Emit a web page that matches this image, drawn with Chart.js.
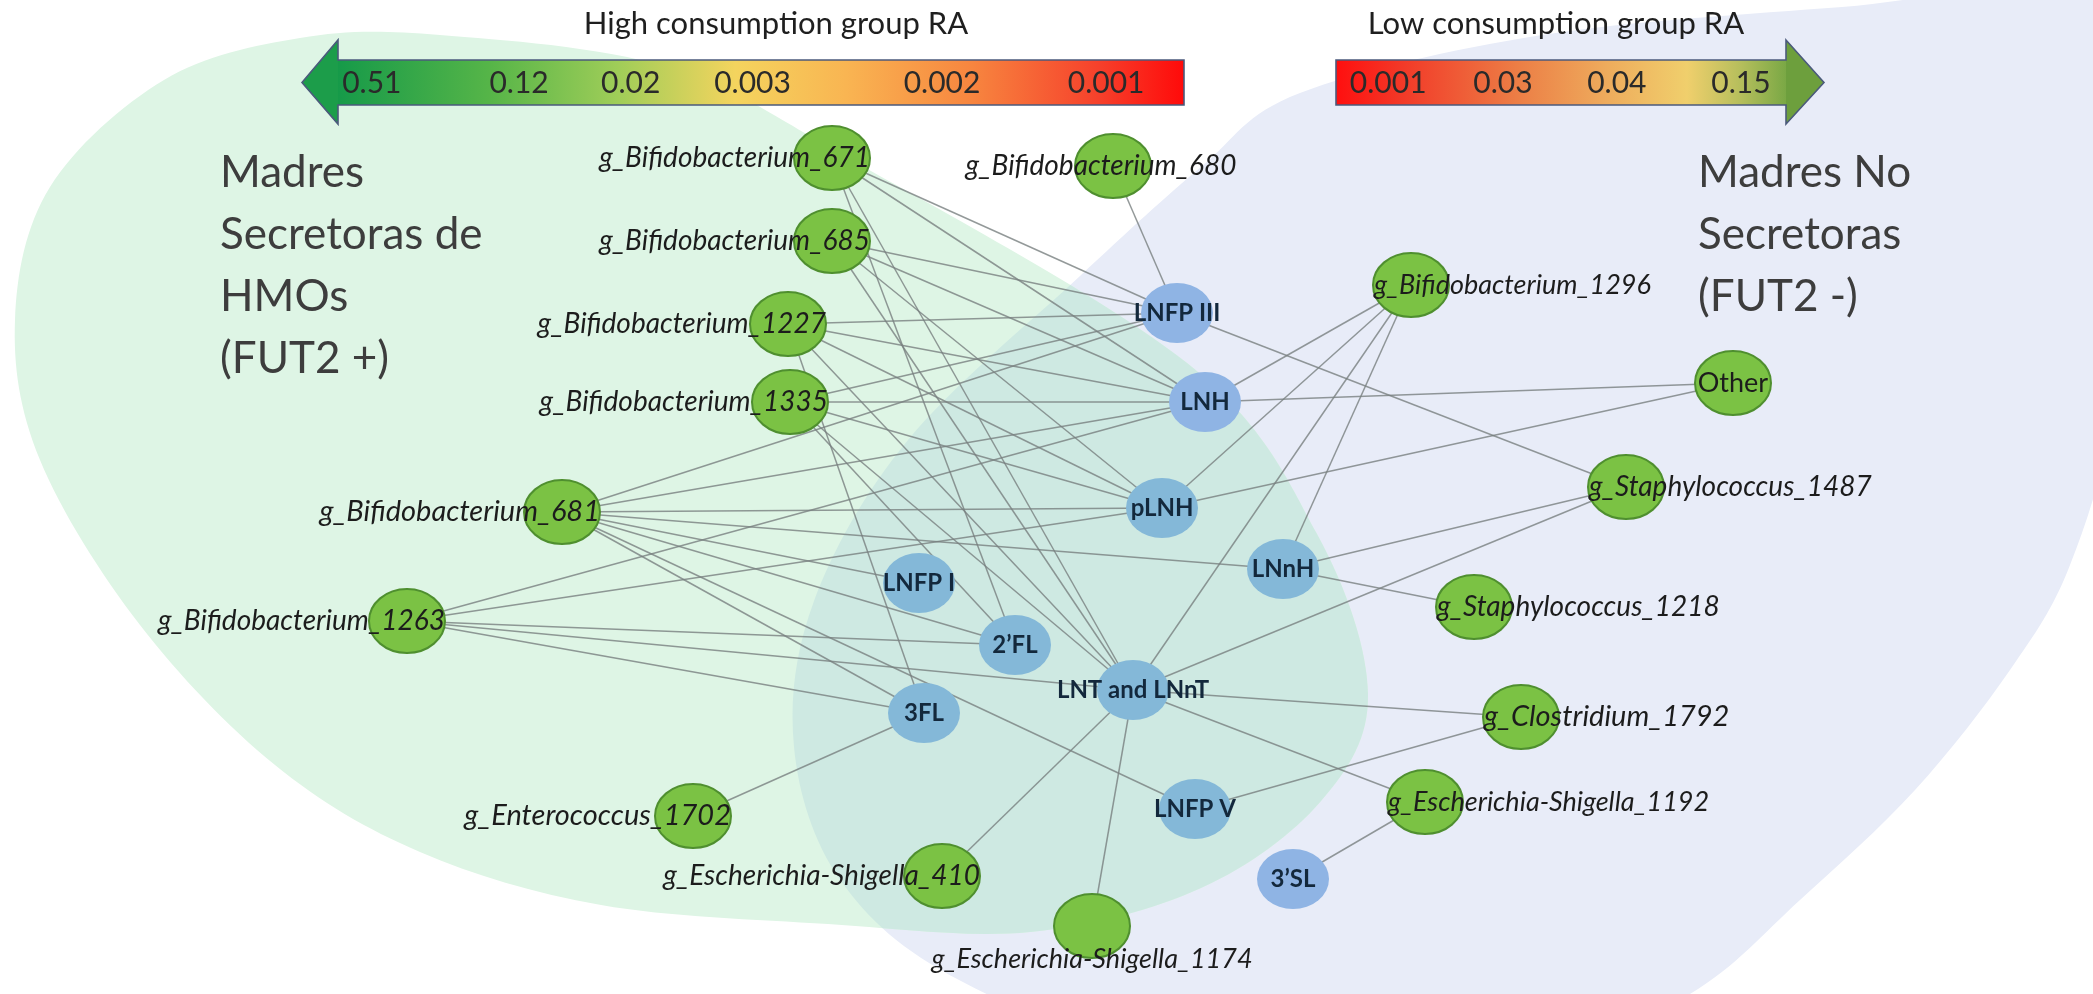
<!DOCTYPE html>
<html>
<head>
<meta charset="utf-8">
<script src="https://cdn.jsdelivr.net/npm/chart.js@4.4.0/dist/chart.umd.min.js"></script>
<style>
  html, body { margin: 0; padding: 0; background: #fff; overflow: hidden; }
</style>
</head>
<body>
<canvas id="net" width="2093" height="994"></canvas>
<script>
// nodes of the network (bacteria + HMOs)
const nodeNames = [
  'g_Bifidobacterium_671', 'g_Bifidobacterium_685', 'g_Bifidobacterium_1227', 'g_Bifidobacterium_1335',
  'g_Bifidobacterium_681', 'g_Bifidobacterium_1263', 'g_Enterococcus_1702', 'g_Escherichia-Shigella_410',
  'g_Escherichia-Shigella_1174', 'g_Bifidobacterium_680', 'g_Bifidobacterium_1296', 'Other',
  'g_Staphylococcus_1487', 'g_Staphylococcus_1218', 'g_Clostridium_1792', 'g_Escherichia-Shigella_1192',
  'LNFP III', 'LNH', 'pLNH', 'LNnH', 'LNFP I', '2’FL', 'LNT and LNnT', '3FL', 'LNFP V', '3’SL'
];
const nodeX = [832, 832, 788, 790, 562, 407, 693, 942, 1092, 1113, 1411, 1733, 1626, 1474, 1521, 1425,
               1177, 1205, 1162, 1283, 919, 1015, 1133, 924, 1195, 1293];
const nodeY = [158, 241, 324, 402, 512, 621, 816, 876, 926, 166, 285, 383, 487, 607, 717, 802,
               313, 402, 508, 569, 583, 645, 690, 713, 809, 879];
const nodeKind = ['bact', 'bact', 'bact', 'bact', 'bact', 'bact', 'bact', 'bact', 'bact', 'bact', 'bact', 'bact',
                  'bact', 'bact', 'bact', 'bact',
                  'hmoB', 'hmoB', 'hmo', 'hmo', 'hmo', 'hmo', 'hmo', 'hmo', 'hmo', 'hmoB'];
const labelSide = ['left', 'left', 'left', 'left', 'left', 'left', 'left', 'left', 'below', 'top', 'right', 'inside',
                   'right', 'right', 'right', 'right',
                   'inside', 'inside', 'inside', 'inside', 'inside', 'inside', 'inside', 'inside', 'inside', 'inside'];

const edges = [
  ['g_Bifidobacterium_671', 'LNFP III'], ['g_Bifidobacterium_671', 'LNH'], ['g_Bifidobacterium_671', 'LNT and LNnT'], ['g_Bifidobacterium_671', '2’FL'],
  ['g_Bifidobacterium_685', 'LNFP III'], ['g_Bifidobacterium_685', 'LNH'], ['g_Bifidobacterium_685', 'pLNH'], ['g_Bifidobacterium_685', 'LNT and LNnT'],
  ['g_Bifidobacterium_1227', 'LNFP III'], ['g_Bifidobacterium_1227', 'LNH'], ['g_Bifidobacterium_1227', 'pLNH'], ['g_Bifidobacterium_1227', 'LNT and LNnT'], ['g_Bifidobacterium_1227', '3FL'],
  ['g_Bifidobacterium_1335', 'LNFP III'], ['g_Bifidobacterium_1335', 'LNH'], ['g_Bifidobacterium_1335', 'pLNH'], ['g_Bifidobacterium_1335', 'LNT and LNnT'], ['g_Bifidobacterium_1335', '2’FL'],
  ['g_Bifidobacterium_681', 'LNFP III'], ['g_Bifidobacterium_681', 'LNH'], ['g_Bifidobacterium_681', 'pLNH'], ['g_Bifidobacterium_681', 'LNnH'],
  ['g_Bifidobacterium_681', 'LNFP I'], ['g_Bifidobacterium_681', '2’FL'], ['g_Bifidobacterium_681', '3FL'], ['g_Bifidobacterium_681', 'LNFP V'],
  ['g_Bifidobacterium_1263', 'LNH'], ['g_Bifidobacterium_1263', 'pLNH'], ['g_Bifidobacterium_1263', '2’FL'],
  ['g_Bifidobacterium_1263', 'LNT and LNnT'], ['g_Bifidobacterium_1263', '3FL'],
  ['g_Bifidobacterium_680', 'LNFP III'],
  ['g_Bifidobacterium_1296', 'LNH'], ['g_Bifidobacterium_1296', 'pLNH'], ['g_Bifidobacterium_1296', 'LNnH'], ['g_Bifidobacterium_1296', 'LNT and LNnT'],
  ['LNFP III', 'g_Staphylococcus_1487'], ['LNH', 'Other'], ['pLNH', 'Other'],
  ['LNnH', 'g_Staphylococcus_1487'], ['LNnH', 'g_Staphylococcus_1218'],
  ['LNT and LNnT', 'g_Staphylococcus_1487'], ['LNT and LNnT', 'g_Clostridium_1792'], ['LNT and LNnT', 'g_Escherichia-Shigella_1192'],
  ['LNT and LNnT', 'g_Escherichia-Shigella_410'], ['LNT and LNnT', 'g_Escherichia-Shigella_1174'],
  ['LNFP V', 'g_Clostridium_1792'], ['3’SL', 'g_Escherichia-Shigella_1192'], ['g_Enterococcus_1702', '3FL']
];

// colour bar tick labels
const highTitle = 'High consumption group RA';
const highTicks = ['0.51', '0.12', '0.02', '0.003', '0.002', '0.001'];
const lowTitle = 'Low consumption group RA';
const lowTicks = ['0.001', '0.03', '0.04', '0.15'];
const groupLeft = ['Madres', 'Secretoras de', 'HMOs', '(FUT2 +)'];
const groupRight = ['Madres No', 'Secretoras', '(FUT2 -)'];

// ---- styling / layout ----
const labelFont = [28, 28, 28, 28, 29, 28, 29, 28, 27, 28, 27, 27, 28, 28, 29, 27,
                   24, 24, 24, 24, 24, 24, 24, 24, 24, 24];
const highTickPos = [0.04, 0.214, 0.346, 0.49, 0.714, 0.908];
const lowTickPos = [0.116, 0.371, 0.624, 0.9];

const greenBlob = [[440, 35], [667, 67], [848, 158], [1187, 363], [1317, 534], [1368, 694], [1321, 801], [1201, 888],
  [1030, 932], [828, 924], [601, 905], [420, 852], [275, 765], [140, 625], [40, 460], [15, 320], [50, 187], [164, 80], [300, 38]];
const blueBlob = [[1080, 276], [1201, 167], [1300, 93], [1542, 35], [1842, 7], [2082, -7], [2136, 133], [2115, 400],
  [2070, 565], [2010, 670], [1915, 790], [1800, 900], [1690, 994], [1520, 1068], [1201, 1068], [961, 981], [841, 881],
  [794, 747], [814, 601], [908, 440]];

function ellipseSprite(w, h, fill, stroke, lw) {
  const c = document.createElement('canvas');
  c.width = w + 4;
  c.height = h + 4;
  const g = c.getContext('2d');
  g.beginPath();
  g.ellipse(c.width / 2, c.height / 2, w / 2, h / 2, 0, 0, Math.PI * 2);
  g.fillStyle = fill;
  g.fill();
  if (stroke) {
    g.lineWidth = lw;
    g.strokeStyle = stroke;
    g.stroke();
  }
  return c;
}

const sprites = {
  bact: ellipseSprite(76, 64, '#7bc244', '#4f8f2f', 2),
  hmo: ellipseSprite(72, 60, '#84b8d8'),
  hmoB: ellipseSprite(72, 60, '#8fb4e4')
};

function smoothPath(ctx, pts) {
  const n = pts.length;
  ctx.beginPath();
  ctx.moveTo(pts[0][0], pts[0][1]);
  for (let i = 0; i < n; i++) {
    const p0 = pts[(i - 1 + n) % n], p1 = pts[i], p2 = pts[(i + 1) % n], p3 = pts[(i + 2) % n];
    ctx.bezierCurveTo(
      p1[0] + (p2[0] - p0[0]) / 6, p1[1] + (p2[1] - p0[1]) / 6,
      p2[0] - (p3[0] - p1[0]) / 6, p2[1] - (p3[1] - p1[1]) / 6,
      p2[0], p2[1]);
  }
  ctx.closePath();
}

const backdrop = {
  id: 'backdrop',
  beforeDatasetsDraw(chart) {
    const { ctx, scales: { x, y } } = chart;
    const toPx = pts => pts.map(p => [x.getPixelForValue(p[0]), y.getPixelForValue(p[1])]);
    const g = toPx(greenBlob), b = toPx(blueBlob);
    ctx.save();
    smoothPath(ctx, b);
    ctx.fillStyle = '#e8ecf8';
    ctx.fill();
    smoothPath(ctx, g);
    ctx.fillStyle = '#def5e5';
    ctx.fill();
    ctx.clip();
    smoothPath(ctx, b);
    ctx.fillStyle = '#cee9e2';
    ctx.fill();
    ctx.restore();

    // group names
    ctx.save();
    ctx.fillStyle = '#3d3d3d';
    ctx.font = '44px Lato';
    ctx.textBaseline = 'middle';
    ctx.textAlign = 'left';
    groupLeft.forEach((t, i) => ctx.fillText(t, x.getPixelForValue(220), y.getPixelForValue(173 + i * 62)));
    groupRight.forEach((t, i) => ctx.fillText(t, x.getPixelForValue(1698), y.getPixelForValue(173 + i * 62)));
    ctx.restore();
  }
};

function barOutline(ctx, x0, x1, y0, y1, tipX, headTop, headBot) {
  const left = tipX < x0;
  const base = left ? x0 : x1;
  const mid = (y0 + y1) / 2;
  ctx.beginPath();
  ctx.moveTo(tipX, mid);
  if (left) {
    ctx.lineTo(base, headTop); ctx.lineTo(base, y0); ctx.lineTo(x1, y0);
    ctx.lineTo(x1, y1); ctx.lineTo(base, y1); ctx.lineTo(base, headBot);
  } else {
    ctx.lineTo(base, headBot); ctx.lineTo(base, y1); ctx.lineTo(x0, y1);
    ctx.lineTo(x0, y0); ctx.lineTo(base, y0); ctx.lineTo(base, headTop);
  }
  ctx.closePath();
  return base;
}

function drawBar(ctx, x0, x1, y0, y1, tipX, headTop, headBot, stops, headColor, ticks, tickPos, title, titleX, titleY) {
  ctx.save();
  const base = barOutline(ctx, x0, x1, y0, y1, tipX, headTop, headBot);
  const grad = ctx.createLinearGradient(x0, 0, x1, 0);
  stops.forEach(s => grad.addColorStop(s[0], s[1]));
  ctx.fillStyle = grad;
  ctx.fill();
  // arrow head colour
  ctx.beginPath();
  ctx.moveTo(tipX, (y0 + y1) / 2);
  ctx.lineTo(base, headTop);
  ctx.lineTo(base, headBot);
  ctx.closePath();
  ctx.fillStyle = headColor;
  ctx.fill();
  // outline
  barOutline(ctx, x0, x1, y0, y1, tipX, headTop, headBot);
  ctx.lineWidth = 1.6;
  ctx.strokeStyle = '#4b5a7c';
  ctx.stroke();

  ctx.fillStyle = '#2a2a2a';
  ctx.font = '30px Lato';
  ctx.textAlign = 'center';
  ctx.textBaseline = 'middle';
  ticks.forEach((t, i) => ctx.fillText(t, x0 + tickPos[i] * (x1 - x0), (y0 + y1) / 2 + 1));
  ctx.fillStyle = '#1f1f1f';
  ctx.font = '31px Lato';
  ctx.fillText(title, titleX, titleY);
  ctx.restore();
}

const overlay = {
  id: 'overlay',
  afterDatasetsDraw(chart) {
    const { ctx, scales: { x, y } } = chart;
    const X = v => x.getPixelForValue(v), Y = v => y.getPixelForValue(v);

    drawBar(ctx, X(338), X(1184), Y(60), Y(105), X(302), Y(40), Y(124),
      [[0, '#169a49'], [0.18, '#56b548'], [0.33, '#9fcd58'], [0.47, '#f4d45e'], [0.6, '#f9b552'],
       [0.75, '#f7853f'], [0.9, '#f6402b'], [1, '#ff0a0a']],
      '#1c9d4a', highTicks, highTickPos, highTitle, X(776), Y(24));
    drawBar(ctx, X(1336), X(1786), Y(60), Y(105), X(1824), Y(40), Y(124),
      [[0, '#ff0f0f'], [0.15, '#f23a28'], [0.4, '#ec7d45'], [0.6, '#eeab5c'], [0.78, '#f0cf6c'],
       [0.9, '#b5be5c'], [1, '#7aa845']],
      '#6d9f3d', lowTicks, lowTickPos, lowTitle, X(1556), Y(24));

    // node labels
    ctx.save();
    ctx.textBaseline = 'middle';
    nodeNames.forEach((name, i) => {
      const cx = X(nodeX[i]), cy = Y(nodeY[i]);
      const side = labelSide[i];
      if (nodeKind[i] !== 'bact') {
        ctx.font = 'bold ' + labelFont[i] + 'px Lato';
        ctx.fillStyle = '#13283c';
      } else if (side === 'inside') {
        ctx.font = labelFont[i] + 'px Lato';
        ctx.fillStyle = '#1c1c1c';
      } else {
        ctx.font = 'italic ' + labelFont[i] + 'px Lato';
        ctx.fillStyle = '#1c1c1c';
      }
      if (side === 'left') {
        ctx.textAlign = 'right';
        ctx.fillText(name, cx + 38, cy);
      } else if (side === 'right') {
        ctx.textAlign = 'left';
        ctx.fillText(name, cx - 37, cy);
      } else if (side === 'top') {
        ctx.textAlign = 'center';
        ctx.fillText(name, cx - 12, cy);
      } else if (side === 'below') {
        ctx.textAlign = 'center';
        ctx.fillText(name, cx, cy + 33);
      } else {
        ctx.textAlign = 'center';
        ctx.fillText(name, cx, cy);
      }
    });
    ctx.restore();
  }
};

const idx = name => nodeNames.indexOf(name);

const nodeDataset = {
  label: 'nodes',
  data: nodeNames.map((n, i) => ({ x: nodeX[i], y: nodeY[i] })),
  pointStyle: nodeKind.map(k => sprites[k]),
  pointRadius: 30,
  pointHoverRadius: 30,
  order: 0
};

const edgeDatasets = edges.map(([a, b]) => ({
  label: a + ' - ' + b,
  data: [
    { x: nodeX[idx(a)], y: nodeY[idx(a)] },
    { x: nodeX[idx(b)], y: nodeY[idx(b)] }
  ],
  showLine: true,
  borderColor: 'rgba(120,128,128,0.8)',
  borderWidth: 1.5,
  pointRadius: 0,
  pointHoverRadius: 0,
  order: 1
}));

new Chart(document.getElementById('net'), {
  type: 'scatter',
  data: {
    datasets: [nodeDataset, ...edgeDatasets]
  },
  options: {
    responsive: false,
    animation: false,
    devicePixelRatio: 1,
    layout: { autoPadding: false, padding: 0 },
    events: [],
    plugins: {
      legend: { display: false },
      tooltip: { enabled: false }
    },
    scales: {
      x: { type: 'linear', min: 0, max: 2093, display: false },
      y: { type: 'linear', min: 0, max: 994, reverse: true, display: false }
    }
  },
  plugins: [backdrop, overlay]
});
</script>
</body>
</html>
